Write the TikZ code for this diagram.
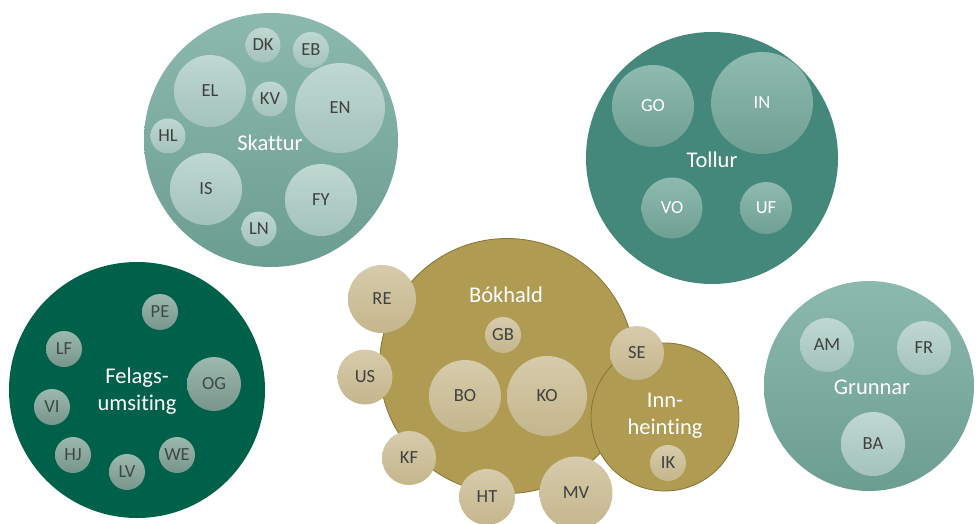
\documentclass[tikz,border=0pt]{standalone}
\usepackage{fontspec}
\setmainfont{Carlito}[Ligatures=NoCommon]
\definecolor{skA}{HTML}{8CB9AD}
\definecolor{skB}{HTML}{6C9D91}
\definecolor{skiA}{HTML}{BFD8D1}
\definecolor{skiB}{HTML}{A3C3BA}
\definecolor{toll}{HTML}{43887A}
\definecolor{toiA}{HTML}{8FBAAF}
\definecolor{toiB}{HTML}{6F9F93}
\definecolor{fel}{HTML}{00614A}
\definecolor{feiA}{HTML}{9DB8AF}
\definecolor{feiB}{HTML}{78958B}
\definecolor{bok}{HTML}{B09B52}
\definecolor{bokline}{HTML}{857434}
\definecolor{boiA}{HTML}{D6CBAB}
\definecolor{boiB}{HTML}{C4B68C}
\definecolor{lbl}{HTML}{404040}
\definecolor{fellbl}{HTML}{3C4A45}
\tikzset{
  grp/.style={circle, inner sep=0pt, draw=none, text=white, align=center},
  inlbl/.style={font=\fontsize{18.5}{20}\selectfont},
  skout/.style={grp, top color=skA, bottom color=skB},
  skin/.style={circle, inner sep=0pt, draw=none, top color=skiA, bottom color=skiB, text=lbl, inlbl},
  toout/.style={grp, fill=toll},
  toin/.style={circle, inner sep=0pt, draw=none, top color=toiA, bottom color=toiB, text=white, inlbl},
  feout/.style={grp, fill=fel},
  fein/.style={circle, inner sep=0pt, draw=none, top color=feiA, bottom color=feiB, text=fellbl, inlbl},
  boout/.style={grp, fill=bok, draw=bokline, line width=0.8pt},
  boin/.style={circle, inner sep=0pt, draw=none, top color=boiA, bottom color=boiB, text=lbl, inlbl},
  grlbl/.style={text=white, font=\fontsize{22.5}{27}\selectfont, inner sep=0pt}
}
\begin{document}
\begin{tikzpicture}[x=1pt,y=-1pt]
\useasboundingbox (0,0) rectangle (976,524);
% --- Skattur ---
\node[skout, minimum size=254pt] (sk) at (271,140) {};
\node[grlbl] (sklbl) at (270,143) {Skattur};
\node[skin, minimum size=35pt] (DK) at (263,45) {DK};
\node[skin, minimum size=36pt] (EB) at (311,50) {EB};
\node[skin, minimum size=72pt] (EL) at (210,91) {EL};
\node[skin, minimum size=35pt] (KV) at (270,99) {KV};
\node[skin, minimum size=90pt] (EN) at (340,108) {EN};
\node[skin, minimum size=35pt] (HL) at (168,136) {HL};
\node[skin, minimum size=72pt] (IS) at (206,189) {IS};
\node[skin, minimum size=72pt] (FY) at (321,200) {FY};
\node[skin, minimum size=35pt] (LN) at (259,229) {LN};
% --- Tollur ---
\node[toout, minimum size=252pt] (to) at (712,158) {};
\node[grlbl] (tolbl) at (712,160) {Tollur};
\node[toin, minimum size=82pt] (GO) at (653,106) {GO};
\node[toin, minimum size=102pt] (IN) at (762,103) {IN};
\node[toin, minimum size=61pt] (VO) at (672,208) {VO};
\node[toin, minimum size=52pt] (UF) at (766,208) {UF};
% --- Felagsumsiting ---
\node[feout, minimum size=256pt] (fe) at (137,390) {};
\node[grlbl, align=center] (felbl) at (137,391) {Felags-\\umsiting};
\node[fein, minimum size=36pt] (PE) at (160,312) {PE};
\node[fein, minimum size=36pt] (LF) at (64,349) {LF};
\node[fein, minimum size=54pt] (OG) at (214,384) {OG};
\node[fein, minimum size=36pt] (VI) at (52,407) {VI};
\node[fein, minimum size=36pt] (HJ) at (73,455) {HJ};
\node[fein, minimum size=36pt] (LV) at (127,472) {LV};
\node[fein, minimum size=36pt] (WE) at (177,455) {WE};
% --- Grunnar ---
\node[skout, minimum size=210pt] (gr) at (869,386) {};
\node[grlbl] (grlab) at (872,387) {Grunnar};
\node[skin, minimum size=54pt] (AM) at (827,345) {AM};
\node[skin, minimum size=54pt] (FR) at (924,348) {FR};
\node[skin, minimum size=64pt] (BA) at (873,444) {BA};
% --- Bokhald ---
\node[boout, minimum size=255pt] (bo) at (507,366) {};
\node[grlbl] (bolbl) at (506,295) {Bókhald};
\node[boout, minimum size=148pt] (ih) at (665,417) {};
\node[grlbl, align=center] (ihlbl) at (665,416) {Inn-\\heinting};
\node[boin, minimum size=68pt] (RE) at (382,299) {RE};
\node[boin, minimum size=36pt] (GB) at (503,335) {GB};
\node[boin, minimum size=55pt] (US) at (365,377) {US};
\node[boin, minimum size=72pt] (BO) at (465,396) {BO};
\node[boin, minimum size=80pt] (KO) at (547,396) {KO};
\node[boin, minimum size=54pt] (SE) at (637,353) {SE};
\node[boin, minimum size=36pt] (IK) at (668,463) {IK};
\node[boin, minimum size=54pt] (KF) at (409,458) {KF};
\node[boin, minimum size=56pt] (HT) at (487,497) {HT};
\node[boin, minimum size=73pt] (MV) at (576,493) {MV};
\end{tikzpicture}
\end{document}
